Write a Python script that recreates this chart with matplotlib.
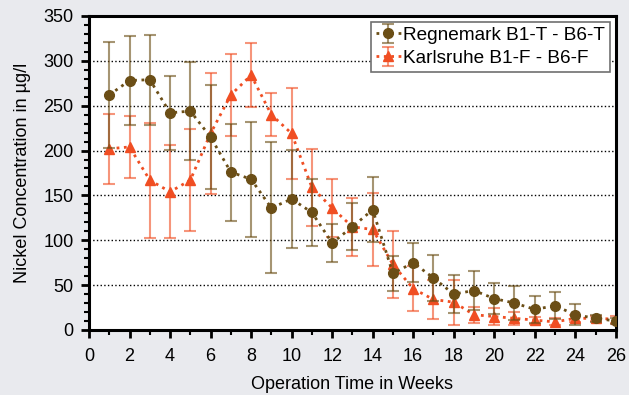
import matplotlib
matplotlib.use("Agg")
import matplotlib.pyplot as plt
from matplotlib.ticker import MultipleLocator

weeks = list(range(1, 27))
regnemark = [262, 278, 279, 242, 244, 215, 176, 168, 136, 146, 131, 97, 115,
             134, 63, 75, 58, 40, 44, 35, 30, 23, 27, 17, 13, 10]
regnemark_err = [59, 50, 50, 41, 55, 58, 54, 64, 73, 55, 37, 21, 26,
                 36, 20, 22, 26, 21, 22, 17, 19, 15, 15, 12, 4, 3]
karlsruhe = [202, 204, 167, 154, 167, 219, 262, 284, 240, 219, 159, 136, 115,
             112, 73, 46, 34, 31, 17, 15, 13, 11, 9, 13, 13, 12]
karlsruhe_err = [39, 35, 64, 52, 57, 67, 46, 36, 24, 51, 43, 32, 32,
                 41, 37, 25, 22, 25, 9, 10, 7, 4, 4, 4, 3, 4]

labels = ["Regnemark B1-T - B6-T", "Karlsruhe B1-F - B6-F"]
brown = "#6B4E16"
red = "#F04E23"

plt.rcParams['font.family'] = ['Liberation Sans', 'DejaVu Sans']
fig = plt.figure(figsize=(6.29, 3.95), dpi=100, facecolor="#E9EAEE")
ax = fig.add_axes([0.1415, 0.1646, 0.8375, 0.795])
ax.set_facecolor("white")

for y, e, c, m, ms, lab, z in [(regnemark, regnemark_err, brown, "o", 7, labels[0], 3),
                               (karlsruhe, karlsruhe_err, red, "^", 7.5, labels[1], 2)]:
    ax.errorbar(weeks, y, yerr=e, color=c, marker=m, markersize=ms, linestyle=":",
                linewidth=2, ecolor=c, elinewidth=1.5, capsize=4.5, capthick=1.5,
                label=lab, zorder=z)

for line in ax.collections:
    line.set_alpha(0.6)
for line in ax.lines:
    if line.get_marker() == "_":
        line.set_alpha(0.6)

ax.set_xlim(0, 26)
ax.set_ylim(0, 350)
ax.xaxis.set_major_locator(MultipleLocator(2))
ax.xaxis.set_minor_locator(MultipleLocator(1))
ax.yaxis.set_major_locator(MultipleLocator(50))
ax.yaxis.set_minor_locator(MultipleLocator(10))
ax.tick_params(which="major", direction="out", length=6, width=2, labelsize=13, colors="black")
ax.tick_params(axis="x", which="major", pad=7)
ax.tick_params(axis="y", which="major", pad=5)
ax.tick_params(which="minor", direction="out", length=3.5, width=1.5)
for s in ax.spines.values():
    s.set_linewidth(2.2)
    s.set_color("black")
ax.yaxis.grid(True, which="major", linestyle=":", color="black", linewidth=1)
ax.set_axisbelow(True)

ax.set_xlabel("Operation Time in Weeks", fontsize=13, labelpad=8)
ax.set_ylabel("Nickel Concentration in µg/l", fontsize=13, labelpad=9)

leg = ax.legend(loc="upper right", fontsize=13.7, fancybox=False, framealpha=1,
                edgecolor="#707070", borderpad=0.25, handlelength=1.3,
                handletextpad=0.15, labelspacing=0.3, borderaxespad=0.3)
leg.get_frame().set_linewidth(1.2)

fig.savefig("out.png", dpi=100, facecolor=fig.get_facecolor())
